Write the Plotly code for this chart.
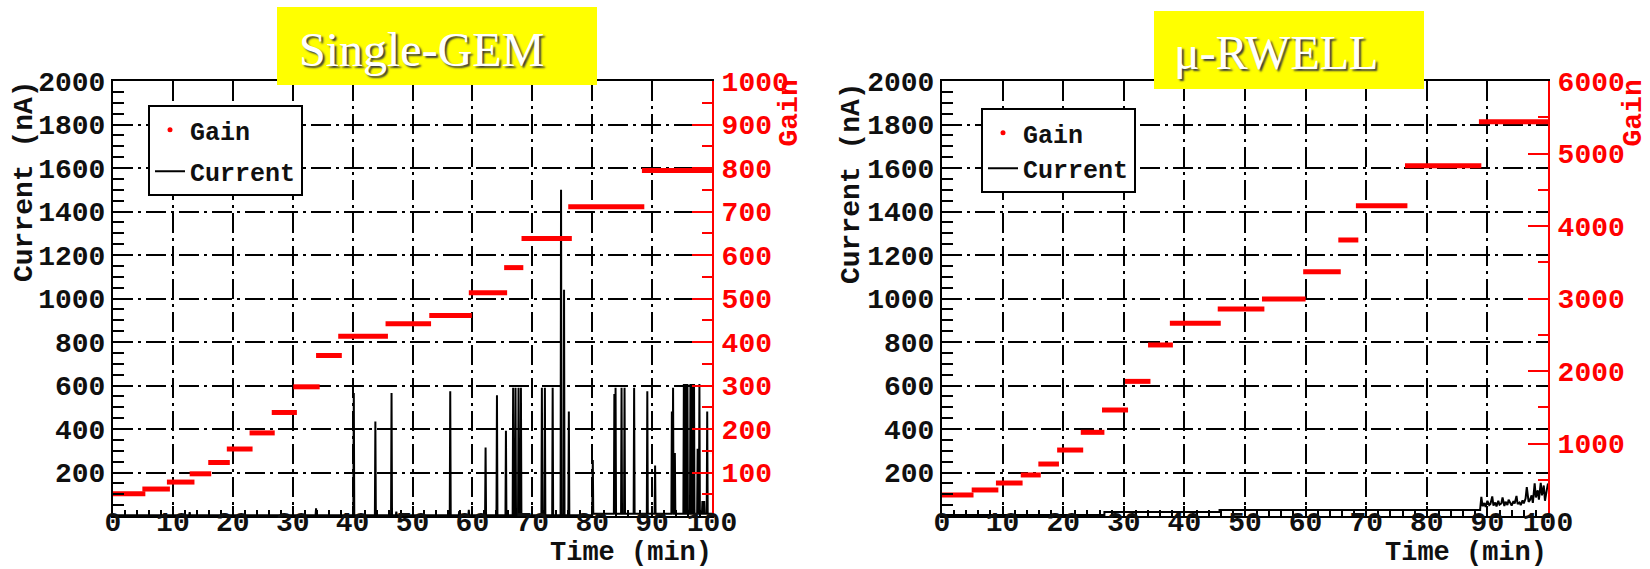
import plotly.graph_objects as go

# ------------------------------------------------------------------ data
time_range = [0, 100]
time_ticks = [0, 10, 20, 30, 40, 50, 60, 70, 80, 90, 100]
current_ticks = [200, 400, 600, 800, 1000, 1200, 1400, 1600, 1800, 2000]
gem_gain_ticks = [100, 200, 300, 400, 500, 600, 700, 800, 900, 1000]
rw_gain_ticks = [1000, 2000, 3000, 4000, 5000, 6000]

# Single-GEM gain steps (start min, end min, gain)
gem_gain_start = [0.0, 4.9, 9.0, 12.8, 15.9, 19.0, 22.8, 26.5, 30.1, 33.9, 37.6, 45.5, 52.8, 59.4, 65.3, 68.2, 76.0, 88.3]
gem_gain_end = [5.4, 9.5, 13.6, 16.4, 19.5, 23.3, 27.0, 30.7, 34.5, 38.2, 45.9, 53.1, 59.9, 65.8, 68.5, 76.6, 88.7, 100.0]
gem_gain_value = [51, 62, 78, 97, 123, 154, 191, 238, 297, 369, 413, 442, 461, 513, 571, 638, 711, 794]

# Single-GEM current: baseline levels and discharge spikes
gem_base_edges = [0, 80, 100]
gem_base_nA = [3, 10]
gem_spike_time = [12.8, 33.9, 40.2, 43.8, 46.5, 47.3, 56.3, 57.8, 59.4, 62.2,
                  64.1, 65.6, 66.8, 67.2, 67.7, 68.1, 71.6, 72.1, 73.4, 74.8,
                  75.3, 76.1, 80.1, 83.7, 83.9, 84.9, 85.4, 87.0, 89.2, 90.5,
                  93.3, 93.5, 93.8, 95.3, 95.6, 95.9, 96.4, 96.7, 97.0, 97.6,
                  97.9, 98.4, 98.7, 99.2]
gem_spike_nA = [18, 35, 565, 434, 566, 20, 574, 22, 28, 315,
                555, 392, 590, 590, 590, 590, 590, 590, 590, 1500,
                1040, 480, 258, 561, 590, 590, 590, 590, 573, 232,
                480, 590, 290, 607, 607, 607, 607, 607, 607, 309,
                607, 69, 69, 480]

# u-RWELL gain steps
rw_gain_start = [0.0, 4.9, 8.9, 13.0, 15.9, 19.0, 22.9, 26.4, 30.2, 34.0, 37.6, 45.5, 52.8, 59.6, 65.4, 68.3, 76.4, 88.6]
rw_gain_end = [5.2, 9.3, 13.3, 16.3, 19.3, 23.3, 26.8, 30.7, 34.4, 38.1, 46.0, 53.2, 60.0, 65.8, 68.7, 76.8, 89.0, 100.0]
rw_gain_value = [290, 359, 455, 566, 717, 910, 1154, 1462, 1857, 2359, 2657, 2855, 2993, 3370, 3807, 4280, 4832, 5439]

# u-RWELL current: baseline levels then noisy readings at the end
rw_base_edges = [0, 26.8, 45.8, 88.8]
rw_base_nA = [5, 18, 28]
rw_noise_time = [88.8, 89.0, 89.2, 89.5, 89.7, 90.0, 90.3, 90.5, 90.8, 91.0,
                 91.3, 91.5, 91.8, 92.0, 92.3, 92.5, 92.8, 93.0, 93.3, 93.5,
                 93.8, 94.0, 94.3, 94.5, 94.8, 95.0, 95.3, 95.5, 95.8, 96.0,
                 96.3, 96.5, 96.8, 97.0, 97.3, 97.5, 97.8, 98.0, 98.3, 98.5,
                 98.8, 99.0, 99.3, 99.5, 99.8, 100.0]
rw_noise_nA = [30, 88, 45, 60, 42, 70, 50, 55, 90, 48,
               62, 44, 70, 52, 58, 85, 46, 66, 50, 75,
               55, 48, 68, 58, 92, 55, 62, 50, 72, 58,
               80, 133, 65, 72, 95, 60, 150, 85, 118, 75,
               152, 95, 140, 70, 120, 150]

# ------------------------------------------------------------------ helpers
W, H = 1650, 569
ML, MR, MT, MB = 113, 102, 81, 53
PW = W - ML - MR
PH = H - MT - MB


def fx(px):
    return (px - ML) / PW


def fy(py):
    return 1 - (py - MT) / PH


def step_segments(starts, ends, values):
    xs, ys = [], []
    for s, e, v in zip(starts, ends, values):
        xs += [s, e, None]
        ys += [v, v, None]
    return xs, ys


def current_curve(edges, levels, spike_t=(), spike_v=(), extra_t=(), extra_v=()):
    pts = []
    for i, lv in enumerate(levels):
        pts.append((edges[i], lv))
        pts.append((edges[i + 1], lv))

    def base(t):
        for i, lv in enumerate(levels):
            if edges[i] <= t < edges[i + 1]:
                return lv
        return levels[-1]

    hw = 0.08
    for t, v in zip(spike_t, spike_v):
        b = base(t)
        pts += [(t - hw, b), (t, v), (t + hw, b)]
    pts += list(zip(extra_t, extra_v))
    pts.sort(key=lambda p: p[0])
    return [p[0] for p in pts], [p[1] for p in pts]


# ------------------------------------------------------------------ styles
MONO = "Liberation Mono, DejaVu Sans Mono, monospace"
INK = "#101010"
RED = "#ff0000"
tick_font = dict(family=MONO, size=28, color=INK, weight="bold")
red_tick_font = dict(family=MONO, size=28, color=RED, weight="bold")
title_font = dict(family=MONO, size=28, color=INK, weight="bold")
time_title_font = dict(family=MONO, size=27, color=INK, weight="bold")
red_title_font = dict(family=MONO, size=28, color=RED, weight="bold")
legend_font = dict(family=MONO, size=25, color=INK, weight="bold")
GRID_DASH = "20px,5px,3px,5px"

fig = go.Figure()

# --- Single-GEM
gx, gy = current_curve(gem_base_edges, gem_base_nA, gem_spike_time, gem_spike_nA)
fig.add_trace(go.Scatter(x=[None], y=[None], mode="markers", name="Gain",
                         marker=dict(color=RED, size=5), xaxis="x", yaxis="y3",
                         legend="legend", legendgroup="g1"))
fig.add_trace(go.Scatter(x=gx, y=gy, mode="lines", name="Current",
                         line=dict(color="black", width=2), xaxis="x", yaxis="y",
                         legend="legend", legendgroup="c1"))
sx, sy = step_segments(gem_gain_start, gem_gain_end, gem_gain_value)
fig.add_trace(go.Scatter(x=sx, y=sy, mode="lines", showlegend=False,
                         line=dict(color=RED, width=5), xaxis="x", yaxis="y3"))

# --- u-RWELL
rx, ry = current_curve(rw_base_edges, rw_base_nA, extra_t=rw_noise_time, extra_v=rw_noise_nA)
fig.add_trace(go.Scatter(x=[None], y=[None], mode="markers", name="Gain",
                         marker=dict(color=RED, size=5), xaxis="x2", yaxis="y4",
                         legend="legend2", legendgroup="g2"))
fig.add_trace(go.Scatter(x=rx, y=ry, mode="lines", name="Current",
                         line=dict(color="black", width=2), xaxis="x2", yaxis="y2",
                         legend="legend2", legendgroup="c2"))
sx, sy = step_segments(rw_gain_start, rw_gain_end, rw_gain_value)
fig.add_trace(go.Scatter(x=sx, y=sy, mode="lines", showlegend=False,
                         line=dict(color=RED, width=5), xaxis="x2", yaxis="y4"))


def x_axis(domain, anchor):
    return dict(domain=domain, anchor=anchor, range=time_range,
                tickmode="array", tickvals=time_ticks,
                showgrid=True, gridcolor="black", gridwidth=2, griddash=GRID_DASH,
                ticks="inside", ticklen=10, tickwidth=2, tickcolor="black",
                showline=True, linecolor="black", linewidth=2, mirror=True,
                zeroline=False, tickfont=tick_font, ticklabelstandoff=-21,
                minor=dict(tickmode="linear", tick0=0, dtick=2, ticks="inside",
                           ticklen=6, tickwidth=2, tickcolor="black", showgrid=False))


def y_axis(anchor):
    return dict(domain=[0, 1], anchor=anchor, range=[0, 2000],
                tickmode="array", tickvals=current_ticks,
                showgrid=True, gridcolor="black", gridwidth=2, griddash=GRID_DASH,
                ticks="inside", ticklen=20, tickwidth=2, tickcolor="black",
                showline=True, linecolor="black", linewidth=2,
                zeroline=False, tickfont=tick_font, ticklabelstandoff=0,
                minor=dict(tickmode="linear", tick0=0, dtick=50, ticks="inside",
                           ticklen=11, tickwidth=2, tickcolor="black", showgrid=False))


def gain_axis(over, anchor, top, ticks, minor_step):
    return dict(overlaying=over, anchor=anchor, side="right", range=[0, top],
                tickmode="array", tickvals=ticks, showgrid=False, zeroline=False,
                ticks="inside", ticklen=20, tickwidth=2, tickcolor=RED,
                showline=True, linecolor=RED, linewidth=2,
                tickfont=red_tick_font, ticklabelstandoff=2,
                minor=dict(tickmode="linear", tick0=0, dtick=minor_step, ticks="inside",
                           ticklen=10, tickwidth=2, tickcolor=RED, showgrid=False))


left_dom = [0, fx(712)]
right_dom = [fx(942), 1]

annotations = [
    dict(text="Current (nA)", x=fx(24), y=fy(78), xanchor="center", yanchor="top",
         textangle=-90, font=title_font),
    dict(text="Current (nA)", x=fx(851), y=fy(80), xanchor="center", yanchor="top",
         textangle=-90, font=title_font),
    dict(text="Gain", x=fx(789), y=fy(78), xanchor="center", yanchor="top",
         textangle=-90, font=red_title_font),
    dict(text="Gain", x=fx(1633), y=fy(78), xanchor="center", yanchor="top",
         textangle=-90, font=red_title_font),
    dict(text="Time (min)", x=fx(714), y=fy(553), xanchor="right", yanchor="middle",
         font=time_title_font),
    dict(text="Time (min)", x=fx(1549), y=fy(553), xanchor="right", yanchor="middle",
         font=time_title_font),
    dict(text="Single-GEM", x=fx(297), y=fy(50), xanchor="left", yanchor="middle",
         font=dict(family="Liberation Serif, serif", size=48, color="white",
                   shadow="2px 2px 2px #3a3a3a")),
    dict(text="\u03bc-RWELL", x=fx(1172), y=fy(53), xanchor="left", yanchor="middle",
         font=dict(family="Liberation Serif, serif", size=48, color="white",
                   shadow="2px 2px 2px #3a3a3a")),
]
for a in annotations:
    a.update(xref="paper", yref="paper", showarrow=False)

shapes = [
    dict(type="rect", xref="paper", yref="paper", x0=fx(277), x1=fx(597),
         y0=fy(85), y1=fy(7), fillcolor="#ffff00", line=dict(width=0), layer="above"),
    dict(type="rect", xref="paper", yref="paper", x0=fx(1154), x1=fx(1424),
         y0=fy(89), y1=fy(11), fillcolor="#ffff00", line=dict(width=0), layer="above"),
]

legend_common = dict(xanchor="left", yanchor="top", bgcolor="white", bordercolor="black",
                     borderwidth=2, font=legend_font, traceorder="grouped")

fig.update_layout(
    width=W, height=H,
    margin=dict(l=ML, r=MR, t=MT, b=MB),
    paper_bgcolor="white", plot_bgcolor="white",
    xaxis=x_axis(left_dom, "y"),
    yaxis=y_axis("x"),
    xaxis2=x_axis(right_dom, "y2"),
    yaxis2=y_axis("x2"),
    yaxis3=gain_axis("y", "x", 1000, gem_gain_ticks, 50),
    yaxis4=gain_axis("y2", "x2", 6000, rw_gain_ticks, 500),
    legend=dict(x=fx(148), y=fy(105), tracegroupgap=6, **legend_common),
    legend2=dict(x=fx(981), y=fy(108), tracegroupgap=0, **legend_common),
    annotations=annotations,
    shapes=shapes,
)

fig.write_html("out.html")
